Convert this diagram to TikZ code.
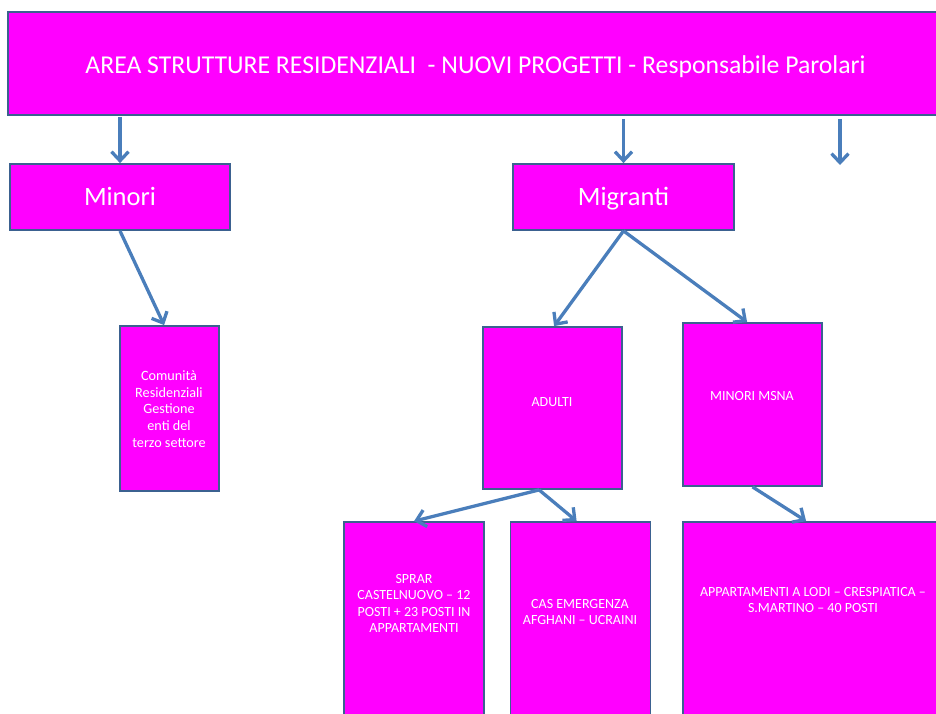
\documentclass[tikz,border=0pt]{standalone}
\usepackage{fontspec}
\setmainfont{Carlito}
\usetikzlibrary{arrows.meta,calc}
\definecolor{boxfill}{HTML}{FF00FF}
\definecolor{boxline}{HTML}{3B6190}
\definecolor{arrowblue}{HTML}{4A7EBB}
\tikzset{
  box/.style={draw=boxline, fill=boxfill, line width=1.8pt, inner sep=0pt, text=white},
  bigtxt/.style={text=white, inner sep=0pt, font=\fontsize{26.5}{30}\selectfont, text height=17.1pt, text depth=0pt},
  titletxt/.style={text=white, inner sep=0pt, font=\fontsize{25.7}{30}\selectfont, text height=16.55pt, text depth=0pt},
  txt/.style={text=white, align=center, inner sep=0pt, font=\fontsize{14}{16.3}\selectfont},
  conn/.style={draw=arrowblue, line width=3.3pt, -{Straight Barb[length=9pt,width=17pt]}}
}
\begin{document}
\begin{tikzpicture}[x=1pt,y=-1pt]
\useasboundingbox (0,0) rectangle (936,713);
\clip (0,0) rectangle (936,713);
% boxes
\node[box, minimum width=954pt, minimum height=103pt] (top) at (485,63.5) {};
\node[box, minimum width=220pt, minimum height=66pt, bigtxt] (minori) at (120,197) {Minori};
\node[box, minimum width=221pt, minimum height=66pt, bigtxt] (migranti) at (623.5,197) {Migranti};
\node[box, minimum width=99pt, minimum height=165pt] (comunita) at (169.5,408.5) {};
\node[box, minimum width=139pt, minimum height=162pt] (adulti) at (552.5,408) {};
\node[box, minimum width=139pt, minimum height=163pt] (msna) at (752.5,404.5) {};
\node[box, minimum width=140pt, minimum height=218pt] (sprar) at (414,631) {};
\node[box, minimum width=140pt, minimum height=218pt] (cas) at (580.5,631) {};
\node[box, minimum width=277pt, minimum height=218pt] (app) at (821.5,631) {};
% texts
\node[titletxt] (ttitle) at (475.5,65) {AREA STRUTTURE RESIDENZIALI\ \ - NUOVI PROGETTI - Responsabile Parolari};
\node[txt, font=\fontsize{14.2}{16.7}\selectfont] (tcom) at (169,409) {Comunità\\Residenziali\\Gestione\\enti del\\terzo settore};
\node[txt] (tadulti) at (552,402) {ADULTI};
\node[txt] (tmsna) at (752,396) {MINORI MSNA};
\node[txt] (tsprar) at (414,603.5) {SPRAR\\CASTELNUOVO – 12\\POSTI + 23 POSTI IN\\APPARTAMENTI};
\node[txt] (tcas) at (580,612) {CAS EMERGENZA\\AFGHANI – UCRAINI};
\node[txt] (tapp) at (813,600) {APPARTAMENTI A LODI – CRESPIATICA –\\S.MARTINO – 40 POSTI};
% connectors
\coordinate (free) at (840,165);
\draw[conn] ($(minori.north |- top.south)+(0,1)$) -- (minori.north);
\draw[conn] ($(migranti.north |- top.south)+(0,3)$) -- (migranti.north);
\draw[conn] ($(free |- top.south)+(0,3)$) -- (free);
\draw[conn] (minori.south) -- ($(comunita.north west)+(45,0)$);
\draw[conn] (migranti.south) -- ($(adulti.north west)+(72,0)$);
\draw[conn] (migranti.south) -- ($(msna.north west)+(65,0)$);
\draw[conn] ($(adulti.south west)+(57,0)$) -- ($(sprar.north west)+(71,0)$);
\draw[conn] ($(adulti.south west)+(57,0)$) -- ($(cas.north west)+(67,0)$);
\draw[conn] (msna.south) -- ($(app.north west)+(124,0)$);
\end{tikzpicture}
\end{document}
